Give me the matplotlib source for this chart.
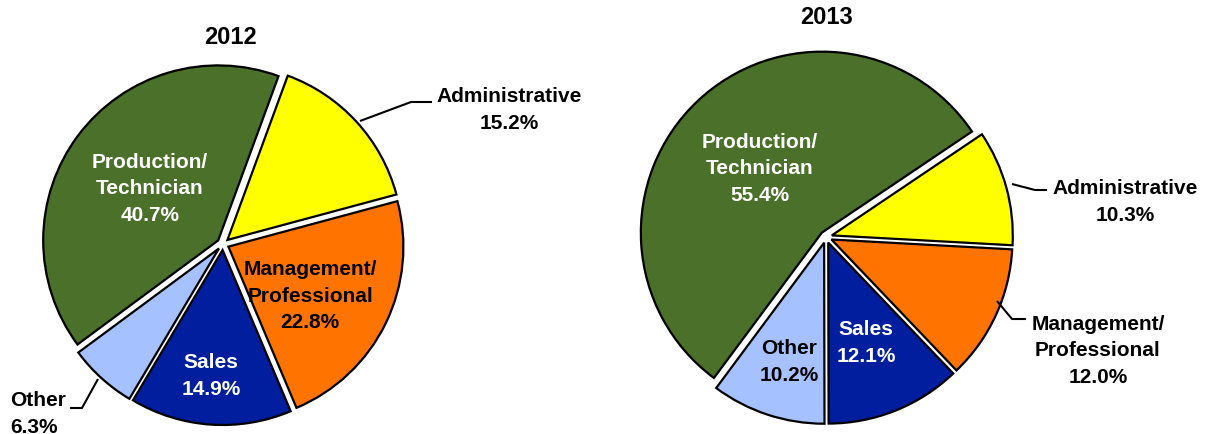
import matplotlib
matplotlib.use("Agg")
import matplotlib.pyplot as plt

# Employment mix by occupation group
categories = ["Production/\nTechnician", "Administrative", "Management/\nProfessional", "Sales", "Other"]
share_2012 = [40.7, 15.2, 22.8, 14.9, 6.3]
share_2013 = [55.4, 10.3, 12.0, 12.1, 10.2]
years = ["2012", "2013"]

colors = ["#4A7029", "#FFFF00", "#FF7300", "#001E9E", "#A6C1FF"]
label_colors = ["white", "black", "black", "white", "black"]

W, H = 1213, 435
FONT = ["Liberation Sans", "DejaVu Sans"]

fig = plt.figure(figsize=(W / 100, H / 100), dpi=100)
ax = fig.add_axes([0, 0, 1, 1])


def py(y):
    """Convert a top-down pixel row to the axes' bottom-up y value."""
    return H - y


def draw_pie(values, center, radius, startangle, gap):
    # explode is given in data units (pixels here), the same for every slice
    ax.pie(values, colors=colors, startangle=startangle, counterclock=False,
           center=(center[0], py(center[1])), radius=radius,
           explode=[gap] * len(values),
           wedgeprops=dict(edgecolor="black", linewidth=1.6))


# pie geometry (pixel units)
pies = {
    "2012": dict(center=(223, 245), radius=175, startangle=216.5, gap=6, title=(230, 37)),
    "2013": dict(center=(826, 238), radius=181, startangle=233.4, gap=6, title=(826, 18)),
}

# label anchor points and leader lines per pie (None = no leader)
label_pos = {
    "2012": [(150, 189), (509, 110), (310, 296), (211, 376), (10, 414)],
    "2013": [(760, 169), (1125, 202), (1098, 351), (866, 343), (789, 362)],
}
label_ha = {
    "2012": ["center", "center", "center", "center", "left"],
    "2013": ["center", "center", "center", "center", "center"],
}
label_inside = {
    "2012": [True, False, True, True, False],
    "2013": [True, False, False, True, True],
}
leaders = {
    "2012": [None, [(360, 122), (411, 103), (432, 103)], None, None,
             [(98, 380), (82, 409), (70, 409)]],
    "2013": [None, [(1012, 185), (1035, 191), (1047, 191)],
             [(997, 302), (1012, 320), (1026, 320)], None, None],
}

for year, values in zip(years, [share_2012, share_2013]):
    p = pies[year]
    draw_pie(values, p["center"], p["radius"], p["startangle"], p["gap"])
    ax.text(p["title"][0], py(p["title"][1]), year, ha="center", va="center",
            fontsize=17, fontweight="bold", family=FONT, color="black")
    for i, (cat, val) in enumerate(zip(categories, values)):
        x, y = label_pos[year][i]
        col = label_colors[i] if label_inside[year][i] else "black"
        ax.text(x, py(y), f"{cat}\n{val:.1f}%", ha=label_ha[year][i], va="center",
                multialignment=label_ha[year][i],
                fontsize=15, fontweight="bold", family=FONT, color=col,
                linespacing=1.5)
        pts = leaders[year][i]
        if pts:
            ax.plot([q[0] for q in pts], [py(q[1]) for q in pts],
                    color="black", lw=1.5, solid_capstyle="butt")

ax.set_xlim(0, W)
ax.set_ylim(0, H)
ax.set_aspect("equal")
ax.axis("off")

fig.savefig("out.png", dpi=100, facecolor="white")
